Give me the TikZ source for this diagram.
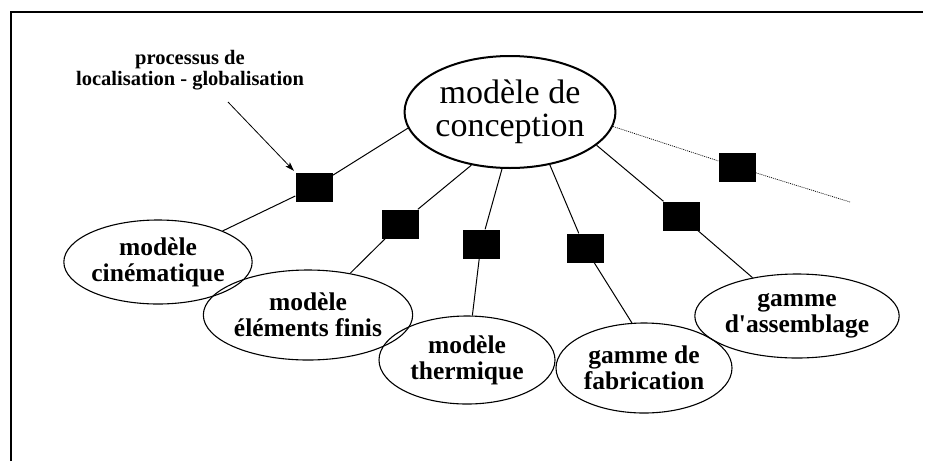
\documentclass[tikz,border=0pt]{standalone}
\usepackage{fontspec}
\setmainfont{Liberation Serif}[Ligatures=TeXOff]
\usetikzlibrary{shapes.geometric,arrows.meta}
\tikzset{
  mainell/.style={ellipse,draw,line width=2pt,minimum width=188pt,minimum height=112pt,inner sep=0pt,align=center,font=\fontsize{34}{33}\selectfont},
  childell/.style={ellipse,draw,line width=1.1pt,inner sep=0pt,align=center,font=\bfseries\fontsize{25.5}{26}\selectfont},
  blk/.style={rectangle,fill=black,minimum width=37pt,minimum height=29pt,inner sep=0pt},
  conn/.style={line width=1pt},
  dotconn/.style={line width=0.7pt,dash pattern=on 1pt off 1pt},
  frame/.style={line width=2pt},
  lbl/.style={inner sep=0pt,align=center,font=\bfseries\fontsize{20.5}{21}\selectfont}
}
\begin{document}
\begin{tikzpicture}[x=1pt,y=-1pt]
\useasboundingbox (0,0) rectangle (925,461);
\draw[frame] (11,461) -- (11,12) -- (923,12);

\node[mainell] (c) at (510,112) {modèle de\\conception};

\node[childell,minimum width=172pt,minimum height=84pt] (k) at (158,262) {modèle\\cinématique};
\node[childell,minimum width=176pt,minimum height=90pt] (f) at (308,315) {modèle\\éléments finis};
\node[childell,minimum width=176pt,minimum height=88pt] (t) at (467,360) {modèle\\thermique};
\node[childell,minimum width=176pt,minimum height=90pt] (g) at (644,368) {gamme de\\fabrication};
\node[childell,minimum width=180pt,minimum height=84pt] (a) at (797,316) {gamme\\d'assemblage};

\node[blk] (s1) at (314,187) {};
\node[blk] (s2) at (400,224) {};
\node[blk] (s3) at (481,244) {};
\node[blk] (s4) at (585,248) {};
\node[blk] (s5) at (681,216) {};
\node[blk] (s6) at (737,167) {};

\draw[conn] (c.189) -- (s1);
\draw[conn] (s1) -- (k);
\draw[conn] (c.234) -- (s2);
\draw[conn] (s2) -- (f);
\draw[conn] (c.262) -- (s3);
\draw[conn] (s3) -- (t);
\draw[conn] (c.307) -- (s4);
\draw[conn] (s4) -- (g.105);
\draw[conn] (c.339) -- (s5);
\draw[conn] (s5) -- (a);

\coordinate (dend) at (850,202);
\draw[dotconn] (c.352) -- (s6);
\draw[dotconn] (s6) -- (dend);

\node[lbl] (p) at (190,70) {processus de\\localisation - globalisation};
\coordinate (pa) at (228,102);
\draw[line width=0.8pt,shorten >=2pt,-{Stealth[length=9pt,width=6pt,inset=2pt]}] (pa) -- (s1.north west);
\end{tikzpicture}
\end{document}
